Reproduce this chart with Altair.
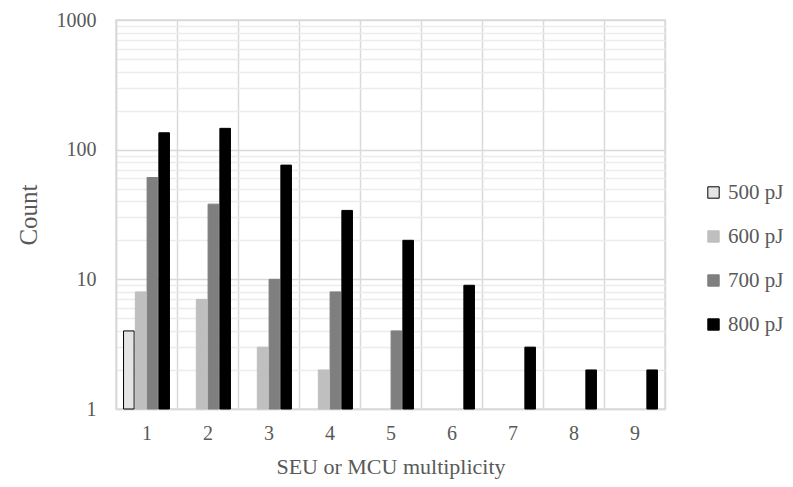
import altair as alt
import pandas as pd

categories = ["1", "2", "3", "4", "5", "6", "7", "8", "9"]
series_names = ["500 pJ", "600 pJ", "700 pJ", "800 pJ"]
s500 = [4, None, None, None, None, None, None, None, None]
s600 = [8, 7, 3, 2, None, None, None, None, None]
s700 = [61, 38, 10, 8, 4, None, None, None, None]
s800 = [135, 146, 76, 34, 20, 9, 3, 2, 2]
y_ticks = [1, 2, 3, 4, 5, 6, 7, 8, 9, 10, 20, 30, 40, 50, 60, 70, 80, 90,
           100, 200, 300, 400, 500, 600, 700, 800, 900, 1000]

rows = []
for name, vals in zip(series_names, [s500, s600, s700, s800]):
    for c, v in zip(categories, vals):
        if v is not None:
            rows.append({"cat": c, "series": name, "count": v})
df = pd.DataFrame(rows)

FONT = "Liberation Serif"
TXT = "#595959"
GRID = "#d9d9d9"

fill_range = ["#e4e4e4", "#bfbfbf", "#7f7f7f", "#000000"]
stroke_range = ["#000000", "#bfbfbf", "#7f7f7f", "#000000"]

major = "indexof([1,10,100,1000], datum.value) >= 0"

legend = alt.Legend(title=None, orient="none", legendX=587, legendY=162,
                    symbolType="square", symbolSize=130, symbolStrokeWidth=1,
                    labelFont=FONT, labelFontSize=21, labelColor=TXT,
                    rowPadding=22, labelOffset=4)

chart = alt.Chart(df).mark_bar(strokeWidth=1).encode(
    x=alt.X("cat:O", sort=categories,
            scale=alt.Scale(domain=categories, paddingInner=0, paddingOuter=0),
            axis=alt.Axis(title="SEU or MCU multiplicity", labelAngle=0, ticks=False,
                          grid=True, tickBand="extent", gridColor=GRID, gridWidth=1.5,
                          domainColor=GRID, domainWidth=1.5,
                          labelFont=FONT, labelFontSize=20, labelColor=TXT, labelPadding=14,
                          titleFont=FONT, titleFontSize=22, titleColor=TXT,
                          titleFontWeight="normal", titlePadding=13)),
    xOffset=alt.XOffset("series:N", sort=series_names,
                        scale=alt.Scale(domain=series_names, paddingInner=0.1, paddingOuter=0.64)),
    y=alt.Y("count:Q",
            scale=alt.Scale(type="log", domain=[1, 1000]),
            axis=alt.Axis(title="Count", values=y_ticks, format="d",
                          labelExpr=major + " ? datum.label : ''",
                          ticks=False, grid=True,
                          gridColor=alt.condition(major, alt.value(GRID), alt.value("#ececec")),
                          gridWidth=1.5,
                          domainColor=GRID, domainWidth=1.5,
                          labelFont=FONT, labelFontSize=20, labelColor=TXT, labelPadding=20,
                          titleFont=FONT, titleFontSize=25, titleColor=TXT,
                          titleFontWeight="normal", titlePadding=15)),
    y2=alt.datum(1),
    fill=alt.Fill("series:N", sort=series_names,
                  scale=alt.Scale(domain=series_names, range=fill_range),
                  legend=legend),
    stroke=alt.Stroke("series:N", sort=series_names,
                      scale=alt.Scale(domain=series_names, range=stroke_range),
                      legend=legend),
).properties(
    width=549, height=389,
    autosize=alt.AutoSizeParams(type="none"),
    padding={"left": 108, "top": 12, "right": 120, "bottom": 70},
    background="#ffffff",
).configure_view(stroke=GRID, strokeWidth=1.5)

chart.save("out.html", embed_options={"renderer": "svg", "actions": False})
